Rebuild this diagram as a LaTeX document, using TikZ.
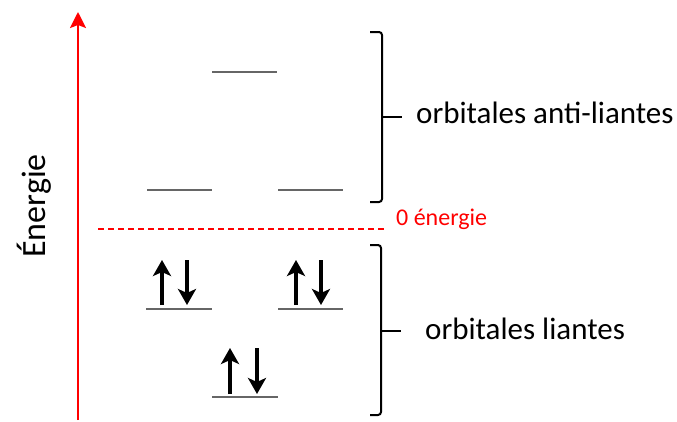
\documentclass[tikz,border=0pt]{standalone}
\usepackage{fontspec}
\setmainfont{Carlito}
\usetikzlibrary{arrows.meta}
\begin{document}
\begin{tikzpicture}[x=1pt,y=-1pt,
  level/.style={draw=black!60,line width=1.1pt},
  spin/.style={line width=4pt,-{Stealth[width=18pt,length=16pt,inset=4pt]}},
  brack/.style={line width=2pt,rounded corners=3pt},
  lbl/.style={font=\fontsize{31}{36}\selectfont,anchor=west,inner sep=0pt}]
\useasboundingbox (0,0) rectangle (677,421);
% energy axis
\coordinate (ab) at (78,420);
\coordinate (at) at (78,12);
\draw[red,line width=2pt,-{Stealth[width=16pt,length=16pt,inset=3pt]}] (ab) -- (at);
\node[rotate=90,font=\fontsize{34}{38}\selectfont,inner sep=0pt] (en) at (34,206) {Énergie};
% antibonding levels
\coordinate (a1l) at (212,72); \coordinate (a1r) at (277,72);
\coordinate (a2l) at (147,190); \coordinate (a2r) at (212,190);
\coordinate (a3l) at (278,190); \coordinate (a3r) at (343,190);
\draw[level] (a1l) -- (a1r);
\draw[level] (a2l) -- (a2r);
\draw[level] (a3l) -- (a3r);
% bonding levels
\coordinate (b1l) at (146,309); \coordinate (b1r) at (212,309);
\coordinate (b2l) at (278,309); \coordinate (b2r) at (343,309);
\coordinate (b3l) at (212,397); \coordinate (b3r) at (278,397);
\draw[level] (b1l) -- (b1r);
\draw[level] (b2l) -- (b2r);
\draw[level] (b3l) -- (b3r);
% spins
\coordinate (s1a) at (162,305); \coordinate (s1b) at (162,260);
\coordinate (s1c) at (187,260); \coordinate (s1d) at (187,305);
\draw[spin] (s1a) -- (s1b); \draw[spin] (s1c) -- (s1d);
\coordinate (s2a) at (296,305); \coordinate (s2b) at (296,260);
\coordinate (s2c) at (321,260); \coordinate (s2d) at (321,305);
\draw[spin] (s2a) -- (s2b); \draw[spin] (s2c) -- (s2d);
\coordinate (s3a) at (230,394); \coordinate (s3b) at (230,348);
\coordinate (s3c) at (257,348); \coordinate (s3d) at (257,394);
\draw[spin] (s3a) -- (s3b); \draw[spin] (s3c) -- (s3d);
% zero energy
\coordinate (z1) at (98,229); \coordinate (z2) at (386,229);
\draw[red,line width=1.2pt,dash pattern=on 6pt off 4pt] (z1) -- (z2);
\node[red,font=\fontsize{24}{28}\selectfont,anchor=west,inner sep=0pt] (zero) at (396,219) {0 énergie};
% brackets
\draw[brack] (370,32) -- (382,32) -- (382,202) -- (370,202);
\coordinate (t1) at (382,117); \coordinate (t1e) at (402,117);
\draw[line width=2pt] (t1) -- (t1e);
\node[lbl] (anti) at (416,113) {orbitales anti-liantes};
\draw[brack] (370,245) -- (381,245) -- (381,415) -- (370,415);
\coordinate (t2) at (381,331); \coordinate (t2e) at (401,331);
\draw[line width=2pt] (t2) -- (t2e);
\node[lbl] (lia) at (425,329) {orbitales liantes};
\end{tikzpicture}
\end{document}
